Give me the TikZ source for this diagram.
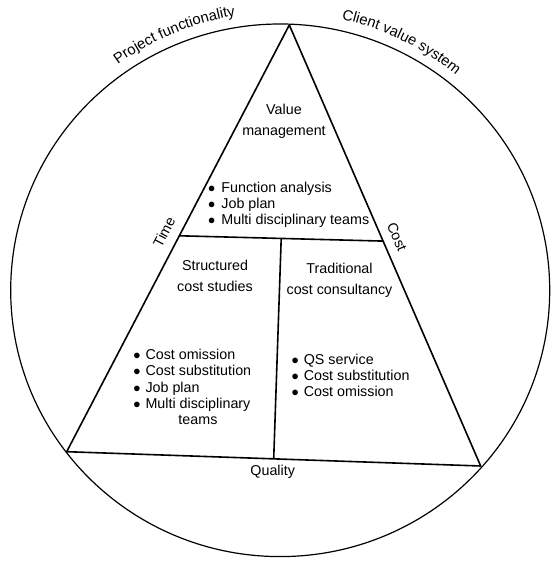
\documentclass[tikz,border=0pt]{standalone}
\usepackage{fontspec}
\setmainfont{Liberation Sans}
\usetikzlibrary{calc, decorations.text}

\newcommand{\labfont}{\fontsize{14.3}{16.2}\selectfont}
\newcommand{\headfont}{\fontsize{14.3}{21}\selectfont}
\newcommand{\arcfont}{\fontsize{14.8}{17}\selectfont}
\newcommand{\bul}{$\bullet$}

\begin{document}
\begin{tikzpicture}[x=1pt,y=1pt,line join=round,
	every node/.style={font=\labfont,inner sep=0pt},
	head/.style={align=center,font=\headfont},
	list/.style={anchor=west},
	side/.style={line width=1.6pt},
	rim/.style={line width=1.2pt}]
	\useasboundingbox (0,0) rectangle (558,565);
	\coordinate (o) at (280.2,274.7);
	\coordinate (apex) at (289.3,540);
	\coordinate (bl) at (66.7,113.3);
	\coordinate (br) at (480.7,99);
	\coordinate (ml) at ($(apex)!0.494!(bl)$);
	\coordinate (mr) at ($(apex)!0.49!(br)$);
	\coordinate (mt) at ($(ml)!0.5!(mr)$);
	\coordinate (mb) at ($(bl)!0.5!(br)$);
	% circle and triangle
	\draw[rim] (o) ellipse [x radius=269.5,y radius=266.3];
	\draw[side] (apex) -- (bl) -- (br) -- cycle;
	\draw[side] (ml) -- (mr);
	\draw[side] (mt) -- (mb);
	% text round the circle
	\path[decorate,decoration={text along path,text align=center,
		text={|\arcfont|Project functionality}}]
		($(o)+(150:278)$) arc[start angle=150,end angle=75,radius=278];
	\path[decorate,decoration={text along path,text align=center,
		text={|\arcfont|Client value system}}]
		($(o)+(101:278)$) arc[start angle=101,end angle=27,radius=278];
	% sides
	\node[rotate=62.4] (time) at (164,333) {Time};
	\node[rotate=-66.5] (cost) at (397,328) {Cost};
	\node (quality) at (272.7,93.3) {Quality};
	% parts
	\node[head] (vm) at (284,443.3) {Value\\management};
	\node[list] (vmlist) at (208,359.5) {\begin{tabular}{@{}c@{\hspace{6pt}}l@{}}
		\bul & Function analysis\\
		\bul & Job plan\\
		\bul & Multi disciplinary teams
		\end{tabular}};
	\node[head] (scs) at (215,289) {Structured\\cost studies};
	\node[list] (scslist) at (133.1,176.1) {\begin{tabular}{@{}c@{\hspace{5pt}}l@{}}
		\bul & Cost omission\\
		\bul & Cost substitution\\
		\bul & Job plan\\
		\bul & \begin{tabular}[t]{@{}c@{}}Multi disciplinary\\teams\end{tabular}
		\end{tabular}};
	\node[head] (tcc) at (339.5,284.2) {Traditional\\cost consultancy};
	\node[list] (tcclist) at (291.4,187.6) {\begin{tabular}{@{}c@{\hspace{5pt}}l@{}}
		\bul & QS service\\
		\bul & Cost substitution\\
		\bul & Cost omission
		\end{tabular}};
\end{tikzpicture}
\end{document}
